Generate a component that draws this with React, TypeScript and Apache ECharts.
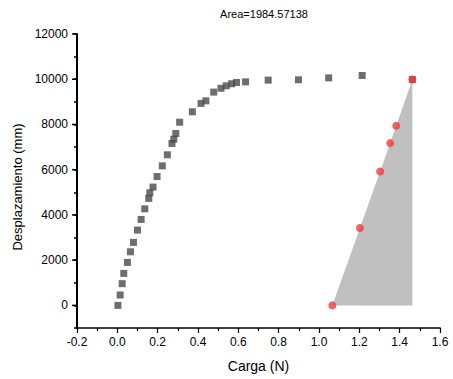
import React, { useEffect, useRef } from "react";
import * as echarts from "echarts";

const titleText = "Area=1984.57138";
const xAxisName = "Carga (N)";
const yAxisName = "Desplazamiento (mm)";

const blackX = [0.003, 0.014, 0.024, 0.032, 0.05, 0.065, 0.08, 0.1, 0.118, 0.136, 0.156, 0.161, 0.177, 0.197, 0.223, 0.248, 0.271, 0.28, 0.29, 0.309, 0.372, 0.415, 0.439, 0.478, 0.514, 0.54, 0.567, 0.591, 0.636, 0.748, 0.898, 1.048, 1.214, 1.463];
const blackY = [0, 460, 960, 1415, 1900, 2370, 2785, 3330, 3800, 4270, 4730, 4980, 5230, 5700, 6170, 6660, 7160, 7350, 7600, 8100, 8560, 8930, 9045, 9430, 9600, 9710, 9800, 9855, 9885, 9960, 9975, 10060, 10165, 9990];

const redX = [1.066, 1.203, 1.303, 1.353, 1.383, 1.463];
const redY = [0, 3420, 5920, 7175, 7940, 9990];

const yMajorTicks = [0, 2000, 4000, 6000, 8000, 10000, 12000];

export default function App() {
  const ref = useRef<HTMLDivElement>(null);
  useEffect(() => {
    if (!ref.current) return;
    const chart = echarts.init(ref.current, null, { renderer: "svg" });
    const font = "Liberation Sans, Arial, sans-serif";
    const polyX = [...redX, redX[redX.length - 1]];
    const polyY = [...redY, 0];
    const xMin = -0.2;
    const yMin = -1000;
    const yMax = 12000;
    chart.setOption({
      animation: false,
      title: {
        text: titleText,
        left: 264,
        top: 8,
        padding: 0,
        textAlign: "center",
        textStyle: { fontFamily: font, fontSize: 11, fontWeight: "normal", color: "#000" },
      },
      grid: { left: 77, right: 13, top: 34, bottom: 51, containLabel: false },
      xAxis: {
        type: "value",
        min: xMin,
        max: 1.6,
        interval: 0.2,
        name: xAxisName,
        nameLocation: "middle",
        nameGap: 31,
        nameTextStyle: { fontFamily: font, fontSize: 14, color: "#000" },
        axisLine: { show: true, onZero: false, lineStyle: { color: "#000", width: 1.6 } },
        axisTick: { show: true, length: 5, lineStyle: { color: "#000", width: 1.2 } },
        minorTick: { show: true, splitNumber: 2, length: 3, lineStyle: { color: "#000", width: 1.2 } },
        splitLine: { show: false },
        axisLabel: {
          fontFamily: font,
          fontSize: 12,
          color: "#000",
          margin: 8,
          formatter: (v: number) => v.toFixed(1),
        },
      },
      yAxis: {
        type: "value",
        min: yMin,
        max: yMax,
        interval: 1000,
        name: yAxisName,
        nameLocation: "middle",
        nameGap: 44,
        nameTextStyle: { fontFamily: font, fontSize: 13, color: "#000", padding: [0, 12, 0, 0] },
        axisLine: { show: true, onZero: false, lineStyle: { color: "#000", width: 2 } },
        axisTick: { show: true, length: 3, lineStyle: { color: "#000", width: 1.5 } },
        splitLine: { show: false },
        axisLabel: {
          fontFamily: font,
          fontSize: 12,
          color: "#000",
          margin: 9,
          formatter: (v: number) => (v % 2000 === 0 ? String(v) : ""),
        },
      },
      series: [
        {
          type: "custom",
          data: [[polyX[0], polyY[0]]],
          z: 1,
          renderItem: (params: any, api: any) => {
            const pts = polyX.map((x, i) => api.coord([x, polyY[i]]));
            return {
              type: "polygon",
              shape: { points: pts },
              style: { fill: "#c0c0c0", stroke: "none" },
            };
          },
          silent: true,
        },
        {
          type: "custom",
          data: [[xMin, yMin]],
          clip: false,
          z: 6,
          silent: true,
          renderItem: (params: any, api: any) => {
            const a = api.coord([xMin, yMin]);
            const b = api.coord([xMin, yMax]);
            return {
              type: "line",
              shape: { x1: a[0], y1: a[1], x2: b[0], y2: b[1] },
              style: { stroke: "#000", lineWidth: 1.6 },
            };
          },
        },
        {
          type: "custom",
          data: yMajorTicks.map((v) => [xMin, v]),
          clip: false,
          z: 6,
          silent: true,
          renderItem: (params: any, api: any) => {
            const p = api.coord([api.value(0), api.value(1)]);
            return {
              type: "line",
              shape: { x1: p[0] - 5, y1: p[1], x2: p[0], y2: p[1] },
              style: { stroke: "#000", lineWidth: 1.5 },
            };
          },
        },
        {
          type: "scatter",
          data: blackX.map((x, i) => [x, blackY[i]]),
          symbol: "rect",
          symbolSize: 7,
          itemStyle: { color: "#4a4a4a" },
          z: 2,
        },
        {
          type: "scatter",
          data: redX.map((x, i) => [x, redY[i]]),
          symbol: "circle",
          symbolSize: 8,
          itemStyle: { color: "#f03c3c" },
          z: 3,
        },
      ],
    });
    return () => chart.dispose();
  }, []);
  return <div ref={ref} style={{ width: 453, height: 379, position: "absolute", left: 0, top: 0 }} />;
}
